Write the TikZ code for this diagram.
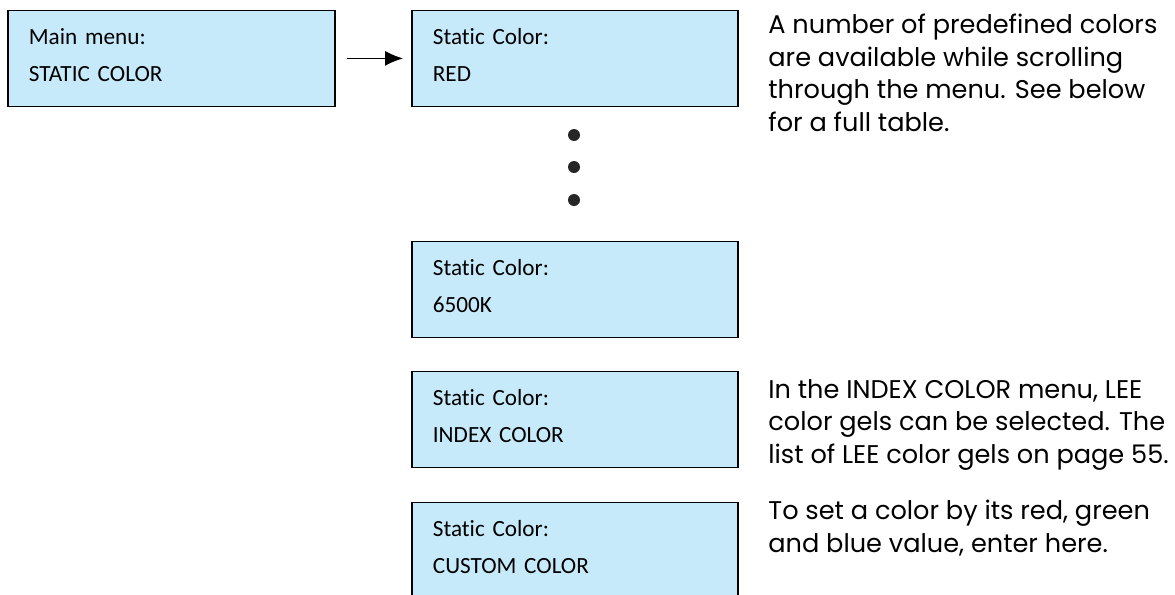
\documentclass[tikz,border=0pt]{standalone}
\usepackage{fontspec}
\setmainfont{Carlito}[Ligatures=NoCommon]
\newfontfamily\notefont{Poppins}
\usetikzlibrary{arrows.meta,positioning}
\definecolor{lcdblue}{RGB}{199,234,250}

\tikzset{
  menubox/.style={draw=black, line width=0.9pt, fill=lcdblue, anchor=north west,
    minimum height=48pt, inner xsep=10.5pt, text width=142pt, text depth=22pt,
    align=left, font=\fontsize{11.6}{18.5}\selectfont},
  dot/.style={circle, fill=black!85, inner sep=0pt, minimum size=6pt},
  note/.style={anchor=north west, inner sep=0pt, align=left,
    font=\notefont\fontsize{12.8}{16.25}\selectfont},
}

\begin{document}
\begin{tikzpicture}[x=0.5pt, y=-0.5pt]
    \useasboundingbox (0,0) rectangle (1175,595);
    \clip (0,0) rectangle (1175,595);
    % menu boxes
    \node[menubox, text width=142.5pt] (main) at (7,9.5) {Main menu:\\STATIC COLOR};
    \node[menubox] (red) at (411,9.5) {Static Color:\\RED};
    \node[menubox] (k6500) at (411,240.5) {Static Color:\\6500K};
    \node[menubox] (index) at (411,370.5) {Static Color:\\INDEX COLOR};
    \node[menubox] (custom) at (411,501.5) {Static Color:\\CUSTOM COLOR};
    \draw[-{Latex[length=9pt,width=7.5pt]}, line width=0.6pt, shorten <=5.5pt, shorten >=4pt] (main) -- (red);
    % scrolling dots
    \foreach \y [count=\i] in {135,167,200}
        \node[dot] (dot\i) at (574,\y) {};
    % notes
    \node[note] (noteRed) at (768,14) {A number of predefined colors\\are available while scrolling\\through the menu. See below\\for a full table.};
    \node[note] (noteIndex) at (768,379) {In the INDEX COLOR menu, LEE\\color gels can be selected. The\\list of LEE color gels on page 55.};
    \node[note] (noteCustom) at (768,500) {To set a color by its red, green\\and blue value, enter here.};
\end{tikzpicture}
\end{document}
